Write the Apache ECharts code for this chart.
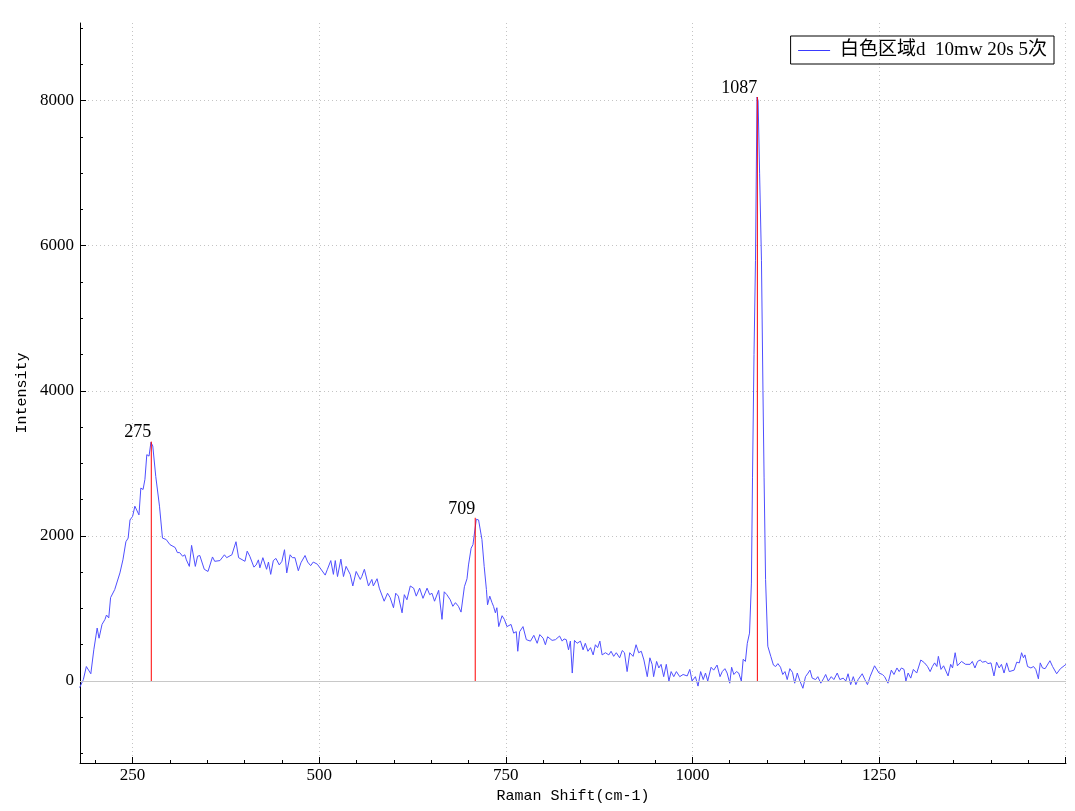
<!DOCTYPE html>
<html><head><meta charset="utf-8">
<script src="https://cdn.jsdelivr.net/npm/echarts@6/dist/echarts.min.js"></script>
<style>html,body{margin:0;padding:0;background:#fff}#chart{width:1075px;height:811px}</style>
</head><body><div id="chart"></div>
<script>
const seriesName = '白色区域d  10mw 20s 5次';
const xAxisName = 'Raman Shift(cm-1)';
const yAxisName = 'Intensity';

// [Raman shift, intensity], by region
const spectrumLow = [
[179,-90],[184,20],[188,200],[194,100],[198,430],[202.5,730],[205,590],[209,780],[213,850],[215,910],[218,870],[220.5,1150],[226,1260],[233,1490],[237,1670],[241,1920],[244,1970],[246.5,2220],[250,2270],[253,2410],[255.5,2420],[258.5,2290],[261,2660],[264,2640],[266.5,2780],[269,3120],[272,3100],[274.5,3290],[277,3240],[281,2820],[286,2410],[290,1970],[295,1950],[300,1880],[307,1840],[310,1770],[313,1770],[317,1720],[320,1740],[322,1670],[326,1580],[329,1870],[334,1580],[337,1720],[340,1730],[346,1540],[351,1510],[357,1710],[360,1650],[367,1660],[373,1740],[376,1700],[383,1740],[388.5,1920],[392,1700]
];
const spectrumMid = [
[394,1700],[400.5,1650],[403.5,1790],[407,1720],[409,1740],[412.5,1570],[415.5,1600],[418.5,1670],[420.5,1560],[424.5,1700],[426.5,1710],[429.5,1540],[432,1640],[435,1470],[438.5,1660],[442,1690],[446.5,1600],[450,1650],[453.5,1810],[456.5,1490],[461,1740],[464,1700],[467.5,1700],[472,1520],[475.5,1630],[481,1730],[484.5,1640],[488.5,1590],[492,1640],[497.5,1610],[501,1560],[508,1460],[511,1540],[515.5,1660],[519,1470],[521.5,1660],[524.5,1440],[529,1680],[532.5,1440],[536,1580],[541.5,1470],[545,1310],[549.5,1510],[555,1400],[557,1440],[560.5,1540],[566,1310],[570.5,1400],[572.5,1310],[577.5,1410],[580.5,1280],[587,1100],[591.5,1210],[595,1150],[599.5,1010],[602.5,1210],[606,1170],[611,940],[614,1190],[617.5,1120],[622,1310],[626.5,1280],[630,1170],[634.5,1280],[639,1140],[644.5,1280],[648,1190],[651,1210],[654.5,1100],[660,1250],[664.5,850],[667.5,1230],[671,1190],[675.5,1120],[679,1030],[682.5,1080],[686.5,1030],[690,950]
];
const spectrumUpper = [
[694.5,1300],[698,1410],[700,1600],[703.5,1830],[706,1880],[708,2040],[710.5,2230],[713.5,2220],[716,2220],[718,1950],[721,1580],[724,1260],[725.5,1050],[728.5,1170],[731.5,1080],[733.5,1030],[736,940],[738,1010],[740.5,750],[745,900],[748,850],[751.5,750],[757,780],[760.5,660],[764,680],[766,410],[768.5,680],[773,750],[777.5,570],[783,550],[787.5,630],[792,520],[795.5,640],[800,590],[803,500],[806,610],[812,560],[816.5,570],[822,620],[825.5,550],[828,580],[831,570],[834,430],[836.5,550],[839,110],[842,560],[845.5,520],[850,550],[853.5,430],[856.5,520],[860,410],[863.5,460],[867,360],[870,500],[873,460],[876,550],[879,360],[883.5,390],[888,360],[891,410],[894.5,340],[898,390],[902.5,320],[906,420],[909,390],[912.5,130],[916,390],[920.5,340],[924.5,500],[928,390],[931.5,410],[935,290],[939.5,60],[943,320],[946,230],[948,60],[952,270],[955,180],[958,230],[961.5,60],[965,230],[968.5,0],[971.5,130],[975,60],[978.5,130],[983,60]
];
const spectrumPeak = [
[987.5,90],[993,70],[996.5,160],[999.5,0],[1004,60],[1007.5,-70],[1011,130],[1014.5,20],[1017.5,110],[1020.5,0],[1025,190],[1028.5,150],[1033,220],[1037,60],[1040,130],[1043.5,170],[1046.5,110],[1050,-30],[1052.5,190],[1055.5,90],[1059,130],[1062,110],[1065.5,0],[1068,300],[1071,270],[1073.5,520],[1076.5,660],[1079,1350],[1080.5,2800],[1082.5,4500],[1084.5,5800],[1086.5,8050],[1088,8000],[1090,7000],[1092.5,5800],[1094.5,4000],[1096,2800],[1098,1400],[1101,480],[1105,340],[1108.5,220],[1111.5,200],[1114.5,240],[1118,190],[1121,90],[1124,130],[1127,20],[1130.5,170],[1134,120],[1137,-30],[1140.5,110],[1144,0],[1148,-100],[1151.5,60],[1155,110],[1157.5,150],[1160.5,40],[1165,20],[1168,60],[1172,-30],[1175.5,30],[1178.5,90],[1182,0],[1186,60],[1189.5,20],[1194,110],[1197.5,20],[1202,40],[1205.5,0],[1208.5,100]
];
const spectrumHigh = [
[1212,-50],[1215.5,60],[1219,-50],[1222,20],[1227.5,100],[1231,20],[1234.5,-50],[1238,60],[1244,210],[1250,110],[1254.5,90],[1257.5,60],[1262,-30],[1266.5,150],[1270,90],[1274,180],[1277,130],[1280,180],[1283.5,160],[1286,0],[1289,110],[1292.5,40],[1296,160],[1300.5,110],[1306,290],[1311,250],[1315,200],[1318.5,130],[1321.5,200],[1324.5,250],[1327.5,200],[1329.5,340],[1333,160],[1336.5,210],[1342.5,70],[1346,230],[1348.5,180],[1352,390],[1355,210],[1360.5,270],[1366,230],[1372,230],[1375,270],[1378.5,180],[1382,270],[1385.5,290],[1388.5,260],[1393,270],[1396,240],[1400,250],[1404,70],[1407.5,260],[1411,180],[1414,230],[1417.5,110],[1421,250],[1424.5,130],[1431,150],[1434.5,260],[1438,250],[1441,390],[1443.5,320],[1445.5,360],[1449,200],[1453.5,180],[1457,200],[1460,160],[1463.5,30],[1466,250],[1469,180],[1472.5,170],[1479,280],[1482.5,200],[1488,100],[1493,170],[1498,210],[1500.5,230]
];

const peakShift = [275, 709, 1087];
const peakIntensity = [3300, 2250, 8050];
const peakLabels = ['275', '709', '1087'];

const xMajorTicks = [250, 500, 750, 1000, 1250, 1500];
const xTickLabels = [250, 500, 750, 1000, 1250];
const xMinorTicks = [200,250,300,350,400,450,500,550,600,650,700,750,800,850,900,950,1000,1050,1100,1150,1200,1250,1300,1350,1400,1450,1500];
const yMajorTicks = [0, 2000, 4000, 6000, 8000];
const yMinorTicks = [-1000,-500,0,500,1000,1500,2000,2500,3000,3500,4000,4500,5000,5500,6000,6500,7000,7500,8000,8500,9000];

const spectrum = [].concat(spectrumLow, spectrumMid, spectrumUpper, spectrumPeak, spectrumHigh);
// vertical stems from the baseline up to each marked peak, broken between peaks
const peakStems = [];
peakShift.forEach((x, i) => { peakStems.push([x, 0], [x, peakIntensity[i]], [x, '-']); });

const X_MIN = 179.5, X_MAX = 1500.5, Y_MIN = -1130, Y_MAX = 9070;
const serif = "'Liberation Serif', 'Noto Sans CJK SC', serif";
const mono = "'Liberation Mono', monospace";
const gridDots = { show: true, lineStyle: { color: '#c4c4c4', type: [1, 3], width: 1 } };
const plainNumber = v => String(v);
const RED = '#ff0000';
const BLUE = '#4f4fff';

const chart = echarts.init(document.getElementById('chart'), null, { renderer: 'canvas' });
chart.setOption({
  animation: false,
  backgroundColor: '#ffffff',
  grid: { left: 80, right: 9, top: 23, bottom: 48, containLabel: false, outerBoundsMode: 'none' },
  legend: {
    data: [seriesName], right: 21, top: 36,
    borderColor: '#000', borderWidth: 1, borderRadius: 0,
    padding: [5, 7, 4, 7], itemWidth: 32, itemHeight: 17,
    itemStyle: { opacity: 0 },
    lineStyle: { color: '#3a3aff', width: 1, opacity: 1 },
    textStyle: { fontFamily: serif, fontSize: 19, color: '#000', padding: [0, 0, 0, 5] }
  },
  xAxis: [
    { type: 'value', min: X_MIN, max: X_MAX, position: 'bottom',
      axisLine: { show: true, onZero: false, lineStyle: { color: '#000', width: 1 } },
      axisTick: { show: true, inside: true, length: 3, customValues: xMinorTicks, lineStyle: { color: '#000' } },
      axisLabel: { show: false }, splitLine: { show: false } },
    { type: 'value', min: X_MIN, max: X_MAX, position: 'bottom',
      name: xAxisName, nameLocation: 'middle', nameGap: 24,
      nameTextStyle: { fontFamily: mono, fontSize: 15, color: '#000' },
      axisLine: { show: false, onZero: false },
      axisTick: { show: true, inside: true, length: 6, customValues: xMajorTicks, lineStyle: { color: '#000' } },
      axisLabel: { show: true, customValues: xTickLabels, formatter: plainNumber, margin: 4, fontFamily: serif, fontSize: 17, color: '#000' },
      splitLine: gridDots }
  ],
  yAxis: [
    { type: 'value', min: Y_MIN, max: Y_MAX, position: 'left',
      axisLine: { show: true, onZero: false, lineStyle: { color: '#000', width: 1 } },
      axisTick: { show: true, inside: true, length: 3, customValues: yMinorTicks, lineStyle: { color: '#000' } },
      axisLabel: { show: false }, splitLine: { show: false } },
    { type: 'value', min: Y_MIN, max: Y_MAX, position: 'left',
      name: yAxisName, nameLocation: 'middle', nameGap: 50, nameRotate: 90,
      nameTextStyle: { fontFamily: mono, fontSize: 15, color: '#000' },
      axisLine: { show: false, onZero: false },
      axisTick: { show: true, inside: true, length: 6, customValues: yMajorTicks, lineStyle: { color: '#000' } },
      axisLabel: { show: true, customValues: yMajorTicks, formatter: plainNumber, margin: 6, fontFamily: serif, fontSize: 17, color: '#000' },
      splitLine: gridDots }
  ],
  series: [
    { type: 'line', name: 'zero', data: [], xAxisIndex: 0, yAxisIndex: 0, z: 1, silent: true, color: '#c8c8c8',
      markLine: { silent: true, symbol: 'none', label: { show: false },
        lineStyle: { color: '#c8c8c8', type: 'solid', width: 1 },
        emphasis: { disabled: true }, data: [{ yAxis: 0 }] } },
    { type: 'line', name: seriesName, data: spectrum, xAxisIndex: 0, yAxisIndex: 0, z: 2,
      symbol: 'none', showSymbol: false, color: BLUE,
      lineStyle: { color: BLUE, width: 1 }, itemStyle: { color: BLUE } },
    { type: 'line', name: 'peaks', data: peakStems, xAxisIndex: 0, yAxisIndex: 0, z: 3, silent: true,
      symbol: 'none', showSymbol: false, connectNulls: false, color: RED,
      lineStyle: { color: RED, width: 1 }, itemStyle: { color: RED },
      markPoint: { silent: true, symbol: 'circle', symbolSize: 0, itemStyle: { color: 'transparent' },
        label: { show: true, position: [0, 0], align: 'right', verticalAlign: 'bottom',
          fontFamily: serif, fontSize: 18, color: '#000', formatter: p => p.name },
        data: peakShift.map((x, i) => ({ name: peakLabels[i], coord: [x, peakIntensity[i]] })) } }
  ]
});
</script></body></html>
